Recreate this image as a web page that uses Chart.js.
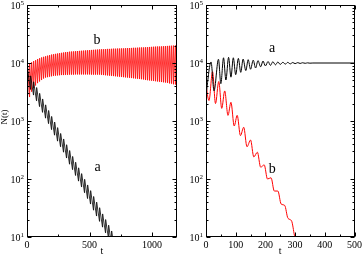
<!DOCTYPE html>
<html lang="en">
<head>
  <meta charset="utf-8">
  <title>N(t)</title>
  <script type="text/javascript" src="https://cdn.jsdelivr.net/npm/chart.js"></script>
  <style type="text/css">
    html, body { margin:0; padding:0; background:#fff; }
    #wrap { position:relative; width:364px; height:257px; }
    canvas { position:absolute; top:0; }
    #left { left:0; }
    #right { left:182px; }
  </style>
</head>
<body>

  <div id="wrap">
    <canvas id="left" width="182" height="257"></canvas>
    <canvas id="right" width="182" height="257"></canvas>
  </div>

  <script type="text/javascript">
    // left panel: fast saw-tooth oscillations, read as peaks / troughs per period
    const leftAStart = 2800, leftAPeriod = 24, leftAOffset = 4, leftARise = 1;
    const leftAPeaks = [7500, 6000, 4750, 3780, 3000, 2400, 1900, 1520, 1200, 960, 770, 610, 490, 390, 310,
      245, 195, 156, 124, 99, 79, 63, 50, 40, 32, 25, 20, 16, 12.7, 10.1];
    const leftATroughs = [3500, 2800, 2230, 1770, 1410, 1120, 900, 710, 570, 450, 360, 290, 230, 180, 145,
      115, 92, 73, 58, 46, 37, 29, 23, 18.6, 14.8, 11.8, 9.4, 7.5, 5.9, 4.7];

    const leftBStart = 3000, leftBPeriod = 16, leftBOffset = 4, leftBRise = 1;
    const leftBPeaks = [9000, 9800, 10300, 10800, 11200, 11700, 12100, 12500, 12800, 13100, 13400, 13700, 14000, 14200, 14400,
      14600, 14800, 15000, 15200, 15400, 15500, 15700, 15800, 15900, 16000, 16100, 16200, 16300, 16400, 16500,
      16600, 16700, 16800, 16900, 17000, 17100, 17200, 17300, 17300, 17400, 17500, 17500, 17600, 17700, 17700,
      17800, 17800, 17900, 17900, 18000, 18100, 18100, 18200, 18300, 18300, 18400, 18500, 18600, 18600, 18700,
      18800, 18900, 19000, 19100, 19200, 19300, 19300, 19400, 19500, 19600, 19700, 19800, 19900, 20000, 20100];
    const leftBTroughs = [2600, 3200, 3700, 4100, 4500, 4800, 5100, 5400, 5600, 5700, 5800, 5900, 6000, 6050, 6100,
      6150, 6200, 6200, 6250, 6250, 6300, 6300, 6300, 6350, 6350, 6350, 6350, 6350, 6350, 6350,
      6350, 6300, 6300, 6300, 6300, 6300, 6250, 6200, 6150, 6100, 6050, 6000, 5950, 5900, 5850,
      5800, 5750, 5700, 5650, 5600, 5550, 5500, 5450, 5400, 5350, 5300, 5250, 5200, 5100, 5050,
      5000, 4950, 4900, 4850, 4800, 4750, 4700, 4650, 4600, 4550, 4450, 4400, 4300, 4250, 4200];

    // right panel
    const rightATimes = [0, 17, 27, 42, 50, 59, 67, 76, 84, 92, 100, 109, 117, 125, 134, 142, 150, 159, 167, 175,
      184, 192, 200, 209, 217, 225, 234, 242, 250, 259, 267, 275, 284, 292, 300, 309, 317, 325, 334, 342, 350, 360, 500];
    const rightAValues = [2800, 10400, 3300, 11600, 4400, 12300, 5100, 12500, 5700, 12300, 6300, 12000, 6900, 11700, 7400, 11400, 7800, 11200, 8200, 11000,
      8600, 10800, 8900, 10600, 9100, 10500, 9300, 10400, 9450, 10300, 9550, 10250, 9650, 10200, 9750, 10150, 9820, 10100, 9880, 10060, 9930, 10000, 10000];

    const rightBTimes = [0, 10, 22, 32, 43, 53, 63, 74, 84, 95, 105, 116, 127, 138, 150, 161, 173, 184, 196, 207,
      219, 230, 242, 253, 265, 276, 288, 298, 306];
    const rightBValues = [4200, 2250, 7100, 2000, 4800, 1650, 3300, 1250, 2100, 820, 1250, 560, 780, 360, 470, 240, 290, 160, 175, 100,
      105, 62, 62, 37, 35, 21, 19, 10.5, 7];

    const leftXTicks = [0, 500, 1000];
    const leftXMinor = [250, 750];
    const rightXTicks = [0, 100, 200, 300, 400, 500];
    const rightXMinor = [50, 150, 250, 350, 450];
    const yDecades = [10, 100, 1000, 10000, 100000];

    // quick rise to each peak, slower fall to the next trough
    const sawtooth = (start, period, offset, rise, peaks, troughs) => {
      const pts = [{ x: 0, y: start }];
      peaks.forEach((p, i) => {
        pts.push({ x: i * period + offset + rise, y: p });
        pts.push({ x: (i + 1) * period + offset, y: troughs[i] });
      });
      return pts;
    };
    const zip = (xs, ys) => xs.map((x, i) => ({ x, y: ys[i] }));

    const serif = "'Liberation Serif', 'Times New Roman', serif";

    const frame = {
      id: 'frame',
      afterDraw(chart, args, opts) {
        const { ctx, chartArea: a, scales: { x, y } } = chart;
        const L = Math.round(a.left) + 0.5, R = Math.round(a.right) - 0.5;
        const T = Math.round(a.top) + 0.5, B = Math.round(a.bottom) - 0.5;
        ctx.save();
        ctx.strokeStyle = '#000';
        ctx.lineWidth = 1;
        ctx.strokeRect(L, T, R - L, B - T);
        const line = (x1, y1, x2, y2) => { ctx.beginPath(); ctx.moveTo(x1, y1); ctx.lineTo(x2, y2); ctx.stroke(); };
        const xt = (v, len) => {
          const px = Math.round(x.getPixelForValue(v)) + 0.5;
          line(px, B, px, B - len); line(px, T, px, T + len);
        };
        const yt = (v, len) => {
          const py = Math.round(y.getPixelForValue(v)) + 0.5;
          line(L, py, L + len, py); line(R, py, R - len, py);
        };
        opts.xMajor.forEach(v => xt(v, 4));
        opts.xMinor.forEach(v => xt(v, 2));
        yDecades.forEach(d => {
          yt(d, 4);
          if (d < 100000) for (let m = 2; m < 10; m++) yt(d * m, 2);
        });

        // y tick labels 10^n
        ctx.fillStyle = '#000';
        ctx.textBaseline = 'middle';
        ctx.textAlign = 'right';
        yDecades.forEach(d => {
          const py = y.getPixelForValue(d) + 1.5;
          const exp = String(Math.round(Math.log10(d)));
          ctx.font = '7px ' + serif;
          const ew = ctx.measureText(exp).width;
          ctx.fillText(exp, a.left - 3, py - 3.5);
          ctx.font = '10px ' + serif;
          ctx.fillText('10', a.left - 3 - ew, py);
        });

        // curve names
        ctx.textAlign = 'center';
        ctx.font = '14px ' + serif;
        opts.notes.forEach(n => ctx.fillText(n.text, x.getPixelForValue(n.x), y.getPixelForValue(n.y)));

        if (opts.yTitle) {
          ctx.translate(5, 117);
          ctx.rotate(-Math.PI / 2);
          ctx.font = '9px ' + serif;
          ctx.fillText(opts.yTitle, 0, 0);
        }
        ctx.restore();
      }
    };

    const makeChart = (id, datasets, cfg) => new Chart(document.getElementById(id), {
      type: 'line',
      data: { datasets },
      options: {
        animation: false,
        responsive: false,
        devicePixelRatio: 1,
        events: [],
        layout: { padding: { top: 5, right: cfg.padRight, left: 0, bottom: 0 } },
        elements: { point: { radius: 0 }, line: { borderWidth: 1 } },
        plugins: {
          legend: { display: false },
          tooltip: { enabled: false },
          frame: { xMajor: cfg.xTicks, xMinor: cfg.xMinor, notes: cfg.notes, yTitle: cfg.yTitle }
        },
        scales: {
          x: {
            type: 'linear', min: 0, max: cfg.xMax,
            afterBuildTicks: s => { s.ticks = cfg.xTicks.map(v => ({ value: v })); },
            afterFit: s => { s.height = 20; },
            grid: { display: false, drawTicks: false },
            border: { display: false },
            ticks: {
              font: { family: serif, size: 10 }, color: '#000', padding: 2, maxRotation: 0, autoSkip: false,
              callback: v => String(v)
            },
            title: { display: true, text: 't', font: { family: serif, size: 10 }, color: '#000', padding: 0 }
          },
          y: {
            type: 'logarithmic', min: 10, max: 100000,
            afterFit: s => { s.width = cfg.yWidth; },
            grid: { display: false, drawTicks: false },
            border: { display: false },
            ticks: { display: false }
          }
        }
      },
      plugins: [frame]
    });

    makeChart('left', [
      { data: sawtooth(leftAStart, leftAPeriod, leftAOffset, leftARise, leftAPeaks, leftATroughs), borderColor: '#000000', borderWidth: 0.8 },
      { data: sawtooth(leftBStart, leftBPeriod, leftBOffset, leftBRise, leftBPeaks, leftBTroughs), borderColor: '#ff0000', borderWidth: 0.8 }
    ], {
      xMax: 1200, xTicks: leftXTicks, xMinor: leftXMinor, yWidth: 27, padRight: 5, yTitle: 'N(t)',
      notes: [{ text: 'b', x: 560, y: 25000 }, { text: 'a', x: 565, y: 160 }]
    });

    makeChart('right', [
      { data: zip(rightATimes, rightAValues), borderColor: '#000000', cubicInterpolationMode: 'monotone' },
      { data: zip(rightBTimes, rightBValues), borderColor: '#ff0000', cubicInterpolationMode: 'monotone' }
    ], {
      xMax: 500, xTicks: rightXTicks, xMinor: rightXMinor, yWidth: 24, padRight: 8, yTitle: null,
      notes: [{ text: 'a', x: 223, y: 18000 }, { text: 'b', x: 223, y: 145 }]
    });
  </script>

</body>
</html>
